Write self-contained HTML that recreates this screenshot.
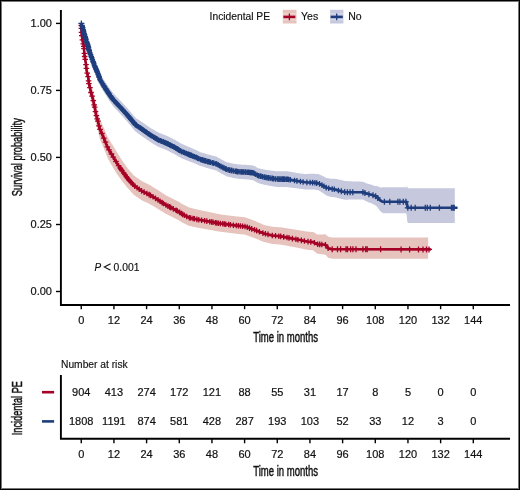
<!DOCTYPE html>
<html><head><meta charset="utf-8"><style>
html,body{margin:0;padding:0;background:#fff;overflow:hidden}
svg{display:block;will-change:transform}
text{font-family:"Liberation Sans",sans-serif;fill:#111}
.t{font-size:11px;stroke:#111;stroke-width:0.2}
.l{font-size:10.5px;stroke:#111;stroke-width:0.15}
.p{font-size:10px;stroke:#111;stroke-width:0.15}
.ti{font-size:14px;stroke:#111;stroke-width:0.45}
</style></head><body>
<svg width="520" height="490" viewBox="0 0 520 490"><rect x="0" y="0" width="520" height="490" fill="#fff"/><polygon points="81.2,23.4 81.8,34.1 82.2,36.7 82.8,38.9 83.2,40.1 83.8,41.2 84.2,46.5 84.8,51.5 85.2,54.0 85.8,56.7 86.2,61.0 86.8,65.1 87.2,66.9 87.8,68.8 88.2,70.6 88.8,75.4 89.2,77.7 89.8,79.6 90.2,81.6 90.8,83.7 91.2,85.7 91.8,87.1 92.2,88.5 92.8,90.0 93.2,92.2 93.8,94.3 94.2,96.5 94.8,98.9 95.2,101.5 95.8,104.0 96.2,106.2 96.8,107.9 97.2,109.6 97.8,111.3 98.2,113.1 98.8,115.0 99.2,116.9 99.8,118.8 100.2,119.8 100.8,121.0 101.2,122.1 101.8,123.2 102.2,124.3 102.8,125.4 103.2,126.6 103.8,127.7 104.2,128.9 104.8,130.1 105.2,131.3 105.8,132.5 106.2,133.7 106.8,134.9 107.2,136.1 107.8,137.3 108.2,138.1 108.8,138.9 109.2,139.7 109.8,140.5 110.2,141.3 110.8,142.1 111.2,142.9 111.8,143.7 112.2,144.5 112.8,145.3 113.2,146.1 113.8,146.9 114.2,147.7 114.8,148.5 115.2,149.4 115.8,150.2 116.2,151.1 116.8,152.0 117.2,152.8 117.8,153.6 118.2,154.3 118.8,155.1 119.2,155.9 119.8,156.7 120.2,157.5 120.8,158.3 121.2,159.0 121.8,159.8 122.2,160.5 122.8,161.2 123.2,161.9 123.8,162.7 124.2,163.4 124.8,164.1 125.2,164.8 125.8,165.5 126.2,166.3 126.8,167.0 127.2,167.7 127.8,168.4 128.2,169.0 128.8,169.6 129.2,170.2 129.8,170.8 130.2,171.4 130.8,172.0 131.2,172.5 131.8,173.1 132.2,173.7 132.8,174.2 133.2,174.8 133.8,175.4 134.2,175.7 134.8,176.1 135.2,176.4 135.8,176.8 136.2,177.2 136.8,177.5 137.2,177.9 137.8,178.2 138.2,178.6 138.8,178.9 139.2,179.3 139.8,179.6 140.2,180.0 140.8,180.3 141.2,180.7 141.8,181.0 142.2,181.2 142.8,181.5 143.2,181.7 143.8,182.0 144.2,182.2 144.8,182.5 145.2,182.7 145.8,183.0 146.2,183.2 146.8,183.5 147.2,183.7 147.8,184.0 148.2,184.2 148.8,184.5 149.2,184.7 149.8,185.0 150.2,185.3 150.8,185.6 151.2,185.9 151.8,186.2 152.2,186.5 152.8,186.9 153.2,187.2 153.8,187.5 154.2,187.8 154.8,188.1 155.2,188.4 155.8,188.7 156.2,189.0 156.8,189.3 157.2,189.6 157.8,189.9 158.2,190.2 158.8,190.6 159.2,190.9 159.8,191.2 160.2,191.6 160.8,191.9 161.2,192.2 161.8,192.5 162.2,192.9 162.8,193.2 163.2,193.5 163.8,193.9 164.2,194.2 164.8,194.5 165.2,194.8 165.8,195.2 166.2,195.4 166.8,195.7 167.2,195.9 167.8,196.2 168.2,196.4 168.8,196.7 169.2,196.9 169.8,197.2 170.2,197.4 170.8,197.7 171.2,197.9 171.8,198.2 172.2,198.4 172.8,198.7 173.2,198.9 173.8,199.2 174.2,199.4 174.8,199.7 175.2,199.9 175.8,200.2 176.2,200.4 176.8,200.7 177.2,200.9 177.8,201.2 178.2,201.4 178.8,201.8 179.2,202.1 179.8,202.4 180.2,202.7 180.8,203.0 181.2,203.3 181.8,203.7 182.2,204.0 182.8,204.3 183.2,204.6 183.8,204.8 184.2,205.1 184.8,205.3 185.2,205.6 185.8,205.8 186.2,206.1 186.8,206.3 187.2,206.6 187.8,206.8 188.2,207.1 188.8,207.3 189.2,207.5 189.8,207.6 190.2,207.7 190.8,207.8 191.2,208.0 191.8,208.1 192.2,208.2 192.8,208.4 193.2,208.5 193.8,208.6 194.2,208.7 194.8,208.9 195.2,209.0 195.8,209.1 196.2,209.3 196.8,209.4 197.2,209.5 197.8,209.6 198.2,209.7 198.8,209.8 199.2,209.9 199.8,210.0 200.2,210.1 200.8,210.2 201.2,210.4 201.8,210.5 202.2,210.6 202.8,210.7 203.2,210.8 203.8,210.9 204.2,211.0 204.8,211.1 205.2,211.2 205.8,211.3 206.2,211.4 206.8,211.5 207.2,211.6 207.8,211.7 208.2,211.8 208.8,211.9 209.2,212.0 209.8,212.2 210.2,212.3 210.8,212.4 211.2,212.5 211.8,212.6 212.2,212.7 212.8,212.8 213.2,212.9 213.8,213.0 214.2,213.1 214.8,213.3 215.2,213.4 215.8,213.5 216.2,213.6 216.8,213.7 217.2,213.8 217.8,213.9 218.2,214.0 218.8,214.1 219.2,214.2 219.8,214.3 220.2,214.3 220.8,214.4 221.2,214.5 221.8,214.6 222.2,214.7 222.8,214.7 223.2,214.8 223.8,214.9 224.2,215.0 224.8,215.1 225.2,215.1 225.8,215.2 226.2,215.2 226.8,215.3 227.2,215.3 227.8,215.4 228.2,215.4 228.8,215.5 229.2,215.6 229.8,215.6 230.2,215.7 230.8,215.7 231.2,215.8 231.8,215.9 232.2,215.9 232.8,216.0 233.2,216.1 233.8,216.1 234.2,216.2 234.8,216.2 235.2,216.3 235.8,216.4 236.2,216.4 236.8,216.5 237.2,216.5 237.8,216.5 238.2,216.6 238.8,216.6 239.2,216.7 239.8,216.7 240.2,216.8 240.8,216.8 241.2,216.9 241.8,216.9 242.2,217.0 242.8,217.0 243.2,217.1 243.8,217.1 244.2,217.2 244.8,217.2 245.2,217.3 245.8,217.5 246.2,217.7 246.8,217.9 247.2,218.0 247.8,218.2 248.2,218.4 248.8,218.5 249.2,218.7 249.8,218.9 250.2,219.1 250.8,219.3 251.2,219.5 251.8,219.7 252.2,219.9 252.8,220.1 253.2,220.3 253.8,220.5 254.2,220.7 254.8,220.9 255.2,221.1 255.8,221.3 256.2,221.5 256.8,221.7 257.2,222.0 257.8,222.2 258.2,222.4 258.8,222.6 259.2,222.9 259.8,223.1 260.2,223.3 260.8,223.5 261.2,223.7 261.8,224.0 262.2,224.2 262.8,224.4 263.2,224.6 263.8,224.8 264.2,225.0 264.8,225.1 265.2,225.3 265.8,225.4 266.2,225.5 266.8,225.6 267.2,225.7 267.8,225.8 268.2,225.9 268.8,226.0 269.2,226.1 269.8,226.2 270.2,226.3 270.8,226.4 271.2,226.5 271.8,226.6 272.2,226.7 272.8,226.8 273.2,226.8 273.8,226.8 274.2,226.9 274.8,226.9 275.2,227.0 275.8,227.0 276.2,227.0 276.8,227.1 277.2,227.1 277.8,227.1 278.2,227.2 278.8,227.2 279.2,227.2 279.8,227.3 280.2,227.3 280.8,227.3 281.2,227.4 281.8,227.5 282.2,227.5 282.8,227.6 283.2,227.7 283.8,227.8 284.2,227.9 284.8,227.9 285.2,228.0 285.8,228.1 286.2,228.2 286.8,228.2 287.2,228.3 287.8,228.4 288.2,228.5 288.8,228.5 289.2,228.6 289.8,228.7 290.2,228.8 290.8,228.9 291.2,228.9 291.8,229.0 292.2,229.1 292.8,229.2 293.2,229.3 293.8,229.4 294.2,229.4 294.8,229.5 295.2,229.6 295.8,229.7 296.2,229.8 296.8,229.9 297.2,229.9 297.8,230.0 298.2,230.1 298.8,230.2 299.2,230.3 299.8,230.4 300.2,230.4 300.8,230.5 301.2,230.6 301.8,230.7 302.2,230.8 302.8,230.9 303.2,231.0 303.8,231.1 304.2,231.2 304.8,231.2 305.2,231.3 305.8,231.4 306.2,231.5 306.8,231.6 307.2,231.6 307.8,231.7 308.2,231.7 308.8,231.7 309.2,231.7 309.8,231.8 310.2,231.8 310.8,231.8 311.2,231.9 311.8,231.9 312.2,231.9 312.8,231.9 313.2,232.0 313.8,232.2 314.2,232.6 314.8,232.9 315.2,233.3 315.8,233.6 316.2,234.0 316.8,234.3 317.2,234.4 317.8,234.4 318.2,234.4 318.8,234.4 319.2,234.4 319.8,234.4 320.2,234.4 320.8,234.4 321.2,234.4 321.8,234.4 322.2,234.4 322.8,234.4 323.2,234.4 323.8,234.3 324.2,234.3 324.8,234.3 325.2,234.3 325.8,234.5 326.2,235.0 326.8,235.4 327.2,235.8 327.8,236.3 328.2,236.7 328.8,236.7 329.2,236.8 329.8,237.0 330.2,237.1 330.8,237.2 331.2,237.3 331.8,237.4 332.2,237.5 332.8,237.5 333.2,237.5 333.8,237.5 334.2,237.5 334.8,237.5 335.2,237.5 335.8,237.5 336.2,237.5 336.8,237.5 337.2,237.5 337.8,237.5 338.2,237.5 338.8,237.5 339.2,237.5 339.8,237.5 340.2,237.5 340.8,237.5 341.2,237.5 341.8,237.5 342.2,237.5 342.8,237.5 343.2,237.5 343.8,237.5 344.2,237.5 344.8,237.5 345.2,237.5 345.8,237.5 346.2,237.5 346.8,237.5 347.2,237.5 347.8,237.5 348.2,237.5 348.8,237.5 349.2,237.5 349.8,237.5 350.2,237.5 350.8,237.5 351.2,237.5 351.8,237.5 352.2,237.5 352.8,237.5 353.2,237.5 353.8,237.5 354.2,237.5 354.8,237.5 355.2,237.5 355.8,237.5 356.2,237.5 356.8,237.5 357.2,237.5 357.8,237.5 358.2,237.5 358.8,237.5 359.2,237.5 359.8,237.5 360.2,237.5 360.8,237.5 361.2,237.5 361.8,237.5 362.2,237.5 362.8,237.5 363.2,237.5 363.8,237.5 364.2,237.5 364.8,237.5 365.2,237.5 365.8,237.5 366.2,237.5 366.8,237.5 367.2,237.5 367.8,237.5 368.2,237.5 368.8,237.5 369.2,237.5 369.8,237.5 370.2,237.5 370.8,237.5 371.2,237.5 371.8,237.5 372.2,237.5 372.8,237.5 373.2,237.5 373.8,237.5 374.2,237.5 374.8,237.5 375.2,237.5 375.8,237.5 376.2,237.5 376.8,237.5 377.2,237.5 377.8,237.5 378.2,237.5 378.8,237.5 379.2,237.5 379.8,237.5 380.2,237.5 380.8,237.5 381.2,237.5 381.8,237.6 382.2,237.6 382.8,237.6 383.2,237.6 383.8,237.6 384.2,237.6 384.8,237.6 385.2,237.6 385.8,237.6 386.2,237.6 386.8,237.6 387.2,237.6 387.8,237.6 388.2,237.6 388.8,237.6 389.2,237.6 389.8,237.6 390.2,237.6 390.8,237.6 391.2,237.6 391.8,237.6 392.2,237.6 392.8,237.6 393.2,237.6 393.8,237.6 394.2,237.6 394.8,237.6 395.2,237.6 395.8,237.6 396.2,237.6 396.8,237.6 397.2,237.6 397.8,237.6 398.2,237.6 398.8,237.6 399.2,237.6 399.8,237.6 400.2,237.6 400.8,237.6 401.2,237.6 401.8,237.6 402.2,237.6 402.8,237.6 403.2,237.6 403.8,237.6 404.2,237.6 404.8,237.6 405.2,237.6 405.8,237.6 406.2,237.6 406.8,237.6 407.2,237.6 407.8,237.6 408.2,237.6 408.8,237.6 409.2,237.6 409.8,237.6 410.2,237.6 410.8,237.6 411.2,237.6 411.8,237.6 412.2,237.6 412.8,237.6 413.2,237.6 413.8,237.6 414.2,237.6 414.8,237.6 415.2,237.6 415.8,237.6 416.2,237.6 416.8,237.6 417.2,237.6 417.8,237.6 418.2,237.6 418.8,237.6 419.2,237.6 419.8,237.6 420.2,237.6 420.8,237.6 421.2,237.6 421.8,237.6 422.2,237.6 422.8,237.6 423.2,237.6 423.8,237.6 424.2,237.6 424.8,237.6 425.2,237.6 425.8,237.6 426.2,237.6 426.8,237.6 427.2,237.6 427.8,237.6 428.2,237.6 428.2,258.8 427.8,258.8 427.2,258.8 426.8,258.8 426.2,258.8 425.8,258.8 425.2,258.8 424.8,258.8 424.2,258.8 423.8,258.8 423.2,258.8 422.8,258.8 422.2,258.8 421.8,258.8 421.2,258.8 420.8,258.8 420.2,258.8 419.8,258.8 419.2,258.8 418.8,258.8 418.2,258.8 417.8,258.8 417.2,258.8 416.8,258.8 416.2,258.8 415.8,258.8 415.2,258.8 414.8,258.8 414.2,258.8 413.8,258.8 413.2,258.8 412.8,258.8 412.2,258.8 411.8,258.8 411.2,258.8 410.8,258.8 410.2,258.8 409.8,258.8 409.2,258.8 408.8,258.8 408.2,258.8 407.8,258.8 407.2,258.8 406.8,258.8 406.2,258.8 405.8,258.8 405.2,258.8 404.8,258.8 404.2,258.8 403.8,258.8 403.2,258.8 402.8,258.8 402.2,258.8 401.8,258.8 401.2,258.8 400.8,258.8 400.2,258.8 399.8,258.8 399.2,258.8 398.8,258.8 398.2,258.8 397.8,258.8 397.2,258.8 396.8,258.8 396.2,258.8 395.8,258.8 395.2,258.8 394.8,258.8 394.2,258.8 393.8,258.8 393.2,258.8 392.8,258.8 392.2,258.8 391.8,258.8 391.2,258.8 390.8,258.8 390.2,258.8 389.8,258.8 389.2,258.8 388.8,258.8 388.2,258.8 387.8,258.8 387.2,258.8 386.8,258.8 386.2,258.8 385.8,258.8 385.2,258.8 384.8,258.8 384.2,258.8 383.8,258.8 383.2,258.8 382.8,258.8 382.2,258.8 381.8,258.8 381.2,258.7 380.8,258.7 380.2,258.7 379.8,258.7 379.2,258.7 378.8,258.7 378.2,258.7 377.8,258.7 377.2,258.7 376.8,258.7 376.2,258.7 375.8,258.7 375.2,258.7 374.8,258.7 374.2,258.7 373.8,258.7 373.2,258.7 372.8,258.7 372.2,258.7 371.8,258.7 371.2,258.7 370.8,258.7 370.2,258.7 369.8,258.7 369.2,258.7 368.8,258.7 368.2,258.7 367.8,258.7 367.2,258.7 366.8,258.7 366.2,258.7 365.8,258.7 365.2,258.7 364.8,258.7 364.2,258.7 363.8,258.7 363.2,258.7 362.8,258.7 362.2,258.7 361.8,258.7 361.2,258.7 360.8,258.7 360.2,258.7 359.8,258.7 359.2,258.7 358.8,258.7 358.2,258.7 357.8,258.7 357.2,258.7 356.8,258.7 356.2,258.7 355.8,258.7 355.2,258.7 354.8,258.7 354.2,258.7 353.8,258.7 353.2,258.7 352.8,258.7 352.2,258.7 351.8,258.7 351.2,258.7 350.8,258.7 350.2,258.7 349.8,258.7 349.2,258.7 348.8,258.7 348.2,258.7 347.8,258.7 347.2,258.7 346.8,258.7 346.2,258.7 345.8,258.7 345.2,258.7 344.8,258.7 344.2,258.7 343.8,258.7 343.2,258.7 342.8,258.7 342.2,258.7 341.8,258.7 341.2,258.7 340.8,258.7 340.2,258.7 339.8,258.7 339.2,258.7 338.8,258.7 338.2,258.7 337.8,258.7 337.2,258.7 336.8,258.7 336.2,258.7 335.8,258.7 335.2,258.7 334.8,258.7 334.2,258.7 333.8,258.7 333.2,258.7 332.8,258.7 332.2,258.7 331.8,258.6 331.2,258.5 330.8,258.4 330.2,258.3 329.8,258.2 329.2,258.0 328.8,257.9 328.2,257.8 327.8,257.2 327.2,256.7 326.8,256.2 326.2,255.6 325.8,255.0 325.2,254.7 324.8,254.7 324.2,254.6 323.8,254.5 323.2,254.5 322.8,254.4 322.2,254.3 321.8,254.3 321.2,254.2 320.8,254.1 320.2,254.1 319.8,254.0 319.2,253.9 318.8,253.8 318.2,253.8 317.8,253.7 317.2,253.6 316.8,253.5 316.2,253.0 315.8,252.6 315.2,252.1 314.8,251.7 314.2,251.2 313.8,250.8 313.2,250.4 312.8,250.3 312.2,250.3 311.8,250.2 311.2,250.2 310.8,250.1 310.2,250.1 309.8,250.0 309.2,250.0 308.8,249.9 308.2,249.9 307.8,249.8 307.2,249.8 306.8,249.7 306.2,249.6 305.8,249.5 305.2,249.4 304.8,249.3 304.2,249.2 303.8,249.0 303.2,248.9 302.8,248.8 302.2,248.7 301.8,248.6 301.2,248.5 300.8,248.4 300.2,248.3 299.8,248.2 299.2,248.1 298.8,248.0 298.2,247.9 297.8,247.8 297.2,247.7 296.8,247.6 296.2,247.5 295.8,247.4 295.2,247.3 294.8,247.2 294.2,247.1 293.8,247.0 293.2,246.9 292.8,246.8 292.2,246.7 291.8,246.6 291.2,246.5 290.8,246.5 290.2,246.4 289.8,246.3 289.2,246.2 288.8,246.1 288.2,246.0 287.8,245.9 287.2,245.8 286.8,245.7 286.2,245.6 285.8,245.6 285.2,245.5 284.8,245.4 284.2,245.3 283.8,245.2 283.2,245.1 282.8,245.0 282.2,244.9 281.8,244.9 281.2,244.8 280.8,244.7 280.2,244.6 279.8,244.6 279.2,244.6 278.8,244.5 278.2,244.5 277.8,244.4 277.2,244.4 276.8,244.3 276.2,244.3 275.8,244.2 275.2,244.2 274.8,244.1 274.2,244.1 273.8,244.1 273.2,244.0 272.8,244.0 272.2,243.9 271.8,243.8 271.2,243.7 270.8,243.6 270.2,243.4 269.8,243.3 269.2,243.2 268.8,243.1 268.2,243.0 267.8,242.9 267.2,242.7 266.8,242.6 266.2,242.5 265.8,242.4 265.2,242.3 264.8,242.2 264.2,242.0 263.8,241.9 263.2,241.7 262.8,241.5 262.2,241.3 261.8,241.1 261.2,240.9 260.8,240.7 260.2,240.5 259.8,240.3 259.2,240.0 258.8,239.8 258.2,239.6 257.8,239.4 257.2,239.2 256.8,239.0 256.2,238.8 255.8,238.6 255.2,238.4 254.8,238.2 254.2,238.0 253.8,237.8 253.2,237.7 252.8,237.5 252.2,237.3 251.8,237.1 251.2,236.9 250.8,236.7 250.2,236.5 249.8,236.4 249.2,236.2 248.8,236.0 248.2,235.8 247.8,235.7 247.2,235.5 246.8,235.3 246.2,235.1 245.8,235.0 245.2,234.8 244.8,234.7 244.2,234.6 243.8,234.6 243.2,234.5 242.8,234.5 242.2,234.4 241.8,234.3 241.2,234.3 240.8,234.2 240.2,234.2 239.8,234.1 239.2,234.1 238.8,234.0 238.2,234.0 237.8,233.9 237.2,233.8 236.8,233.8 236.2,233.7 235.8,233.7 235.2,233.6 234.8,233.6 234.2,233.5 233.8,233.4 233.2,233.4 232.8,233.3 232.2,233.2 231.8,233.2 231.2,233.1 230.8,233.0 230.2,232.9 229.8,232.9 229.2,232.8 228.8,232.7 228.2,232.7 227.8,232.6 227.2,232.6 226.8,232.5 226.2,232.4 225.8,232.4 225.2,232.3 224.8,232.3 224.2,232.2 223.8,232.1 223.2,232.1 222.8,232.0 222.2,232.0 221.8,231.9 221.2,231.8 220.8,231.8 220.2,231.7 219.8,231.7 219.2,231.6 218.8,231.5 218.2,231.5 217.8,231.4 217.2,231.3 216.8,231.2 216.2,231.1 215.8,231.0 215.2,230.9 214.8,230.8 214.2,230.7 213.8,230.6 213.2,230.5 212.8,230.4 212.2,230.3 211.8,230.2 211.2,230.2 210.8,230.1 210.2,230.0 209.8,229.9 209.2,229.8 208.8,229.7 208.2,229.6 207.8,229.5 207.2,229.4 206.8,229.3 206.2,229.2 205.8,229.2 205.2,229.1 204.8,229.0 204.2,228.9 203.8,228.8 203.2,228.7 202.8,228.6 202.2,228.5 201.8,228.5 201.2,228.4 200.8,228.3 200.2,228.2 199.8,228.1 199.2,228.0 198.8,227.9 198.2,227.8 197.8,227.7 197.2,227.7 196.8,227.6 196.2,227.5 195.8,227.3 195.2,227.2 194.8,227.1 194.2,227.0 193.8,226.9 193.2,226.8 192.8,226.7 192.2,226.6 191.8,226.4 191.2,226.3 190.8,226.2 190.2,226.1 189.8,226.0 189.2,225.9 188.8,225.8 188.2,225.5 187.8,225.3 187.2,225.0 186.8,224.8 186.2,224.5 185.8,224.3 185.2,224.0 184.8,223.8 184.2,223.6 183.8,223.3 183.2,223.1 182.8,222.8 182.2,222.5 181.8,222.2 181.2,221.8 180.8,221.5 180.2,221.2 179.8,220.9 179.2,220.6 178.8,220.3 178.2,220.0 177.8,219.7 177.2,219.5 176.8,219.2 176.2,219.0 175.8,218.7 175.2,218.5 174.8,218.2 174.2,218.0 173.8,217.8 173.2,217.5 172.8,217.3 172.2,217.0 171.8,216.8 171.2,216.5 170.8,216.3 170.2,216.0 169.8,215.8 169.2,215.6 168.8,215.3 168.2,215.1 167.8,214.8 167.2,214.6 166.8,214.3 166.2,214.1 165.8,213.8 165.2,213.5 164.8,213.2 164.2,212.9 163.8,212.6 163.2,212.3 162.8,212.0 162.2,211.6 161.8,211.3 161.2,211.0 160.8,210.7 160.2,210.4 159.8,210.0 159.2,209.7 158.8,209.4 158.2,209.1 157.8,208.8 157.2,208.5 156.8,208.2 156.2,207.9 155.8,207.6 155.2,207.3 154.8,207.0 154.2,206.7 153.8,206.4 153.2,206.1 152.8,205.8 152.2,205.5 151.8,205.3 151.2,205.0 150.8,204.7 150.2,204.4 149.8,204.1 149.2,203.8 148.8,203.6 148.2,203.3 147.8,203.1 147.2,202.8 146.8,202.6 146.2,202.4 145.8,202.1 145.2,201.9 144.8,201.7 144.2,201.4 143.8,201.2 143.2,200.9 142.8,200.7 142.2,200.5 141.8,200.2 141.2,199.9 140.8,199.6 140.2,199.2 139.8,198.9 139.2,198.6 138.8,198.2 138.2,197.9 137.8,197.5 137.2,197.2 136.8,196.9 136.2,196.5 135.8,196.2 135.2,195.8 134.8,195.5 134.2,195.1 133.8,194.8 133.2,194.2 132.8,193.7 132.2,193.1 131.8,192.6 131.2,192.0 130.8,191.4 130.2,190.9 129.8,190.3 129.2,189.8 128.8,189.3 128.2,188.8 127.8,188.3 127.2,187.7 126.8,187.0 126.2,186.4 125.8,185.8 125.2,185.1 124.8,184.5 124.2,183.8 123.8,183.2 123.2,182.6 122.8,181.9 122.2,181.3 121.8,180.7 121.2,180.0 120.8,179.3 120.2,178.6 119.8,177.9 119.2,177.2 118.8,176.5 118.2,175.8 117.8,175.1 117.2,174.4 116.8,173.7 116.2,172.9 115.8,172.1 115.2,171.3 114.8,170.5 114.2,169.6 113.8,168.7 113.2,167.9 112.8,167.0 112.2,166.1 111.8,165.3 111.2,164.4 110.8,163.5 110.2,162.7 109.8,161.8 109.2,160.9 108.8,160.0 108.2,159.2 107.8,158.3 107.2,157.1 106.8,155.8 106.2,154.5 105.8,153.2 105.2,152.0 104.8,150.7 104.2,149.5 103.8,148.2 103.2,147.0 102.8,145.8 102.2,144.6 101.8,143.4 101.2,142.2 100.8,141.1 100.2,139.9 99.8,138.7 99.2,136.6 98.8,134.4 98.2,132.2 97.8,130.2 97.2,128.2 96.8,126.2 96.2,124.3 95.8,121.9 95.2,119.1 94.8,116.3 94.2,113.6 93.8,111.2 93.2,108.8 92.8,106.4 92.2,104.7 91.8,103.0 91.2,101.3 90.8,99.1 90.2,96.7 89.8,94.4 89.2,92.1 88.8,89.4 88.2,84.2 87.8,81.9 87.2,79.6 86.8,77.4 86.2,72.9 85.8,68.2 85.2,65.1 84.8,62.1 84.2,56.7 83.8,50.3 83.2,47.3 82.8,44.4 82.2,40.4 81.8,36.0 81.2,23.4" fill="#e6c4bd"/><polygon points="81.2,23.4 81.8,24.6 82.2,25.8 82.8,27.0 83.2,29.1 83.8,31.0 84.2,32.2 84.8,33.5 85.2,35.0 85.8,36.5 86.2,38.0 86.8,39.1 87.2,40.2 87.8,41.3 88.2,42.7 88.8,44.7 89.2,46.6 89.8,47.7 90.2,48.9 90.8,50.2 91.2,51.6 91.8,52.8 92.2,54.1 92.8,55.4 93.2,56.7 93.8,58.1 94.2,59.5 94.8,60.7 95.2,61.9 95.8,63.0 96.2,64.2 96.8,65.3 97.2,66.5 97.8,67.6 98.2,68.8 98.8,70.1 99.2,71.7 99.8,73.2 100.2,74.5 100.8,75.2 101.2,76.0 101.8,76.7 102.2,77.4 102.8,78.2 103.2,78.9 103.8,79.7 104.2,80.5 104.8,81.2 105.2,82.0 105.8,82.8 106.2,83.5 106.8,84.3 107.2,85.0 107.8,85.6 108.2,86.3 108.8,87.0 109.2,87.7 109.8,88.4 110.2,89.1 110.8,89.8 111.2,90.5 111.8,91.2 112.2,91.9 112.8,92.5 113.2,93.2 113.8,93.8 114.2,94.3 114.8,94.8 115.2,95.3 115.8,95.8 116.2,96.4 116.8,96.9 117.2,97.4 117.8,97.9 118.2,98.4 118.8,98.9 119.2,99.4 119.8,99.9 120.2,100.5 120.8,101.0 121.2,101.6 121.8,102.1 122.2,102.6 122.8,103.2 123.2,103.7 123.8,104.3 124.2,104.8 124.8,105.3 125.2,105.9 125.8,106.4 126.2,107.0 126.8,107.5 127.2,108.1 127.8,108.6 128.2,109.2 128.8,109.8 129.2,110.4 129.8,111.0 130.2,111.5 130.8,112.1 131.2,112.7 131.8,113.3 132.2,113.9 132.8,114.5 133.2,115.1 133.8,115.7 134.2,116.2 134.8,116.8 135.2,117.4 135.8,117.8 136.2,118.2 136.8,118.5 137.2,118.9 137.8,119.2 138.2,119.5 138.8,119.9 139.2,120.2 139.8,120.6 140.2,120.9 140.8,121.2 141.2,121.6 141.8,121.9 142.2,122.3 142.8,122.6 143.2,122.9 143.8,123.3 144.2,123.6 144.8,124.0 145.2,124.3 145.8,124.7 146.2,125.0 146.8,125.3 147.2,125.7 147.8,126.0 148.2,126.4 148.8,126.7 149.2,127.1 149.8,127.4 150.2,127.7 150.8,128.1 151.2,128.4 151.8,128.7 152.2,129.0 152.8,129.2 153.2,129.5 153.8,129.8 154.2,130.1 154.8,130.4 155.2,130.7 155.8,131.0 156.2,131.3 156.8,131.6 157.2,131.9 157.8,132.1 158.2,132.4 158.8,132.7 159.2,132.9 159.8,133.1 160.2,133.3 160.8,133.4 161.2,133.6 161.8,133.8 162.2,134.0 162.8,134.2 163.2,134.4 163.8,134.6 164.2,134.8 164.8,135.0 165.2,135.2 165.8,135.4 166.2,135.6 166.8,135.8 167.2,136.0 167.8,136.3 168.2,136.5 168.8,136.8 169.2,137.0 169.8,137.3 170.2,137.5 170.8,137.7 171.2,138.0 171.8,138.2 172.2,138.5 172.8,138.7 173.2,138.9 173.8,139.2 174.2,139.5 174.8,139.8 175.2,140.0 175.8,140.3 176.2,140.6 176.8,140.9 177.2,141.2 177.8,141.5 178.2,141.8 178.8,142.1 179.2,142.4 179.8,142.7 180.2,143.0 180.8,143.3 181.2,143.6 181.8,143.9 182.2,144.1 182.8,144.3 183.2,144.5 183.8,144.7 184.2,144.9 184.8,145.2 185.2,145.4 185.8,145.6 186.2,145.8 186.8,146.0 187.2,146.2 187.8,146.4 188.2,146.7 188.8,146.9 189.2,147.1 189.8,147.3 190.2,147.5 190.8,147.7 191.2,148.0 191.8,148.2 192.2,148.4 192.8,148.6 193.2,148.8 193.8,149.0 194.2,149.3 194.8,149.5 195.2,149.7 195.8,149.9 196.2,150.1 196.8,150.3 197.2,150.6 197.8,150.9 198.2,151.1 198.8,151.4 199.2,151.7 199.8,152.0 200.2,152.2 200.8,152.3 201.2,152.5 201.8,152.6 202.2,152.8 202.8,152.9 203.2,153.0 203.8,153.2 204.2,153.3 204.8,153.5 205.2,153.6 205.8,153.8 206.2,153.9 206.8,154.1 207.2,154.2 207.8,154.4 208.2,154.5 208.8,154.6 209.2,154.8 209.8,154.9 210.2,155.0 210.8,155.1 211.2,155.3 211.8,155.4 212.2,155.5 212.8,155.7 213.2,155.8 213.8,155.9 214.2,156.0 214.8,156.2 215.2,156.3 215.8,156.4 216.2,156.6 216.8,156.8 217.2,157.1 217.8,157.4 218.2,157.7 218.8,158.0 219.2,158.2 219.8,158.5 220.2,158.8 220.8,159.1 221.2,159.4 221.8,159.6 222.2,159.9 222.8,160.1 223.2,160.4 223.8,160.6 224.2,160.9 224.8,161.2 225.2,161.4 225.8,161.7 226.2,161.9 226.8,162.2 227.2,162.3 227.8,162.4 228.2,162.5 228.8,162.6 229.2,162.7 229.8,162.9 230.2,163.0 230.8,163.1 231.2,163.2 231.8,163.3 232.2,163.4 232.8,163.5 233.2,163.6 233.8,163.7 234.2,163.8 234.8,163.9 235.2,164.0 235.8,164.0 236.2,164.1 236.8,164.2 237.2,164.2 237.8,164.3 238.2,164.4 238.8,164.4 239.2,164.5 239.8,164.6 240.2,164.6 240.8,164.6 241.2,164.7 241.8,164.7 242.2,164.7 242.8,164.7 243.2,164.7 243.8,164.7 244.2,164.7 244.8,164.8 245.2,164.8 245.8,164.8 246.2,164.8 246.8,164.8 247.2,164.9 247.8,164.9 248.2,165.0 248.8,165.1 249.2,165.1 249.8,165.2 250.2,165.2 250.8,165.3 251.2,165.3 251.8,165.4 252.2,165.4 252.8,165.5 253.2,165.5 253.8,165.7 254.2,166.0 254.8,166.3 255.2,166.5 255.8,166.8 256.2,167.1 256.8,167.4 257.2,167.7 257.8,168.0 258.2,168.2 258.8,168.3 259.2,168.4 259.8,168.5 260.2,168.6 260.8,168.8 261.2,168.9 261.8,169.0 262.2,169.1 262.8,169.2 263.2,169.3 263.8,169.4 264.2,169.5 264.8,169.6 265.2,169.7 265.8,169.8 266.2,169.9 266.8,170.0 267.2,170.0 267.8,170.1 268.2,170.2 268.8,170.2 269.2,170.3 269.8,170.4 270.2,170.5 270.8,170.5 271.2,170.6 271.8,170.7 272.2,170.7 272.8,170.8 273.2,170.9 273.8,171.0 274.2,171.0 274.8,171.1 275.2,171.2 275.8,171.2 276.2,171.2 276.8,171.2 277.2,171.2 277.8,171.2 278.2,171.2 278.8,171.2 279.2,171.2 279.8,171.2 280.2,171.2 280.8,171.2 281.2,171.2 281.8,171.2 282.2,171.2 282.8,171.2 283.2,171.2 283.8,171.2 284.2,171.2 284.8,171.2 285.2,171.2 285.8,171.2 286.2,171.2 286.8,171.2 287.2,171.2 287.8,171.3 288.2,171.4 288.8,171.5 289.2,171.6 289.8,171.7 290.2,171.8 290.8,171.9 291.2,171.9 291.8,172.0 292.2,172.1 292.8,172.2 293.2,172.3 293.8,172.4 294.2,172.5 294.8,172.6 295.2,172.6 295.8,172.7 296.2,172.8 296.8,172.9 297.2,173.0 297.8,173.1 298.2,173.2 298.8,173.2 299.2,173.3 299.8,173.4 300.2,173.5 300.8,173.5 301.2,173.6 301.8,173.6 302.2,173.7 302.8,173.7 303.2,173.8 303.8,173.8 304.2,173.9 304.8,173.9 305.2,174.0 305.8,173.9 306.2,173.9 306.8,173.9 307.2,173.9 307.8,173.9 308.2,173.9 308.8,173.8 309.2,173.8 309.8,173.8 310.2,173.8 310.8,173.8 311.2,173.8 311.8,173.7 312.2,173.7 312.8,173.7 313.2,173.7 313.8,173.7 314.2,173.7 314.8,173.8 315.2,173.8 315.8,173.9 316.2,173.9 316.8,174.0 317.2,174.0 317.8,174.1 318.2,174.1 318.8,174.3 319.2,174.5 319.8,174.7 320.2,174.9 320.8,175.1 321.2,175.4 321.8,175.6 322.2,175.8 322.8,176.0 323.2,176.3 323.8,176.6 324.2,176.8 324.8,177.1 325.2,177.4 325.8,177.6 326.2,177.9 326.8,178.0 327.2,178.1 327.8,178.2 328.2,178.3 328.8,178.3 329.2,178.4 329.8,178.5 330.2,178.6 330.8,178.7 331.2,178.7 331.8,178.7 332.2,178.7 332.8,178.7 333.2,178.8 333.8,178.8 334.2,178.8 334.8,178.8 335.2,178.8 335.8,178.9 336.2,179.0 336.8,179.1 337.2,179.2 337.8,179.3 338.2,179.4 338.8,179.5 339.2,179.6 339.8,179.7 340.2,179.8 340.8,179.9 341.2,180.0 341.8,180.2 342.2,180.3 342.8,180.5 343.2,180.6 343.8,180.7 344.2,180.9 344.8,181.0 345.2,181.1 345.8,181.1 346.2,181.1 346.8,181.1 347.2,181.2 347.8,181.2 348.2,181.2 348.8,181.2 349.2,181.2 349.8,181.3 350.2,181.3 350.8,181.3 351.2,181.3 351.8,181.3 352.2,181.3 352.8,181.4 353.2,181.4 353.8,181.4 354.2,181.4 354.8,181.4 355.2,181.5 355.8,181.5 356.2,181.5 356.8,181.5 357.2,181.5 357.8,181.5 358.2,181.6 358.8,181.6 359.2,181.6 359.8,181.6 360.2,181.6 360.8,181.7 361.2,181.7 361.8,181.7 362.2,181.7 362.8,181.7 363.2,181.9 363.8,182.1 364.2,182.3 364.8,182.5 365.2,182.8 365.8,183.0 366.2,183.2 366.8,183.4 367.2,183.6 367.8,183.7 368.2,183.9 368.8,184.0 369.2,184.1 369.8,184.3 370.2,184.4 370.8,184.6 371.2,184.7 371.8,184.8 372.2,185.0 372.8,185.2 373.2,185.4 373.8,185.6 374.2,185.8 374.8,185.9 375.2,186.0 375.8,185.9 376.2,185.8 376.8,186.0 377.2,186.2 377.8,186.4 378.2,186.6 378.8,186.8 379.2,187.0 379.8,187.2 380.2,187.4 380.8,187.4 381.2,187.4 381.8,187.4 382.2,187.3 382.8,187.3 383.2,187.3 383.8,187.3 384.2,187.3 384.8,187.3 385.2,187.3 385.8,187.3 386.2,187.3 386.8,187.3 387.2,187.3 387.8,187.3 388.2,187.3 388.8,187.3 389.2,187.3 389.8,187.3 390.2,187.3 390.8,187.3 391.2,187.3 391.8,187.3 392.2,187.3 392.8,187.3 393.2,187.3 393.8,187.3 394.2,187.3 394.8,187.3 395.2,187.3 395.8,187.3 396.2,187.3 396.8,187.3 397.2,187.3 397.8,187.3 398.2,187.3 398.8,187.3 399.2,187.3 399.8,187.3 400.2,187.3 400.8,187.3 401.2,187.3 401.8,187.3 402.2,187.3 402.8,187.3 403.2,187.3 403.8,187.3 404.2,187.3 404.8,187.3 405.2,187.3 405.8,187.3 406.2,187.3 406.8,186.8 407.2,186.3 407.8,188.2 408.2,188.2 408.8,188.2 409.2,188.2 409.8,188.2 410.2,188.2 410.8,188.2 411.2,188.2 411.8,188.2 412.2,188.2 412.8,188.2 413.2,188.2 413.8,188.2 414.2,188.2 414.8,188.2 415.2,188.2 415.8,188.2 416.2,188.2 416.8,188.2 417.2,188.2 417.8,188.2 418.2,188.2 418.8,188.2 419.2,188.2 419.8,188.2 420.2,188.2 420.8,188.2 421.2,188.2 421.8,188.2 422.2,188.2 422.8,188.2 423.2,188.2 423.8,188.2 424.2,188.2 424.8,188.2 425.2,188.2 425.8,188.2 426.2,188.2 426.8,188.2 427.2,188.2 427.8,188.2 428.2,188.2 428.8,188.2 429.2,188.2 429.8,188.2 430.2,188.2 430.8,188.2 431.2,188.2 431.8,188.2 432.2,188.2 432.8,188.2 433.2,188.2 433.8,188.2 434.2,188.2 434.8,188.2 435.2,188.2 435.8,188.2 436.2,188.2 436.8,188.2 437.2,188.2 437.8,188.2 438.2,188.2 438.8,188.2 439.2,188.2 439.8,188.2 440.2,188.2 440.8,188.2 441.2,188.2 441.8,188.2 442.2,188.2 442.8,188.2 443.2,188.2 443.8,188.2 444.2,188.2 444.8,188.2 445.2,188.2 445.8,188.2 446.2,188.2 446.8,188.2 447.2,188.2 447.8,188.2 448.2,188.2 448.8,188.2 449.2,188.2 449.8,188.2 450.2,188.2 450.8,188.2 451.2,188.2 451.8,188.2 452.2,188.2 452.8,188.2 453.2,188.2 453.8,188.2 454.2,188.2 454.8,188.2 454.8,223.0 454.2,223.0 453.8,223.0 453.2,223.0 452.8,223.0 452.2,223.0 451.8,223.0 451.2,223.0 450.8,223.0 450.2,223.0 449.8,223.0 449.2,223.0 448.8,223.0 448.2,223.0 447.8,223.0 447.2,223.0 446.8,223.0 446.2,223.0 445.8,223.0 445.2,223.0 444.8,223.0 444.2,223.0 443.8,223.0 443.2,223.0 442.8,223.0 442.2,223.0 441.8,223.0 441.2,223.0 440.8,223.0 440.2,223.0 439.8,223.0 439.2,223.0 438.8,223.0 438.2,223.0 437.8,223.0 437.2,223.0 436.8,223.0 436.2,223.0 435.8,223.0 435.2,223.0 434.8,223.0 434.2,223.0 433.8,223.0 433.2,223.0 432.8,223.0 432.2,223.0 431.8,223.0 431.2,223.0 430.8,223.0 430.2,223.0 429.8,223.0 429.2,223.0 428.8,223.0 428.2,223.0 427.8,223.0 427.2,223.0 426.8,223.0 426.2,223.0 425.8,223.0 425.2,223.0 424.8,223.0 424.2,223.0 423.8,223.0 423.2,223.0 422.8,223.0 422.2,223.0 421.8,223.0 421.2,223.0 420.8,223.0 420.2,223.0 419.8,223.0 419.2,223.0 418.8,223.0 418.2,223.0 417.8,223.0 417.2,223.0 416.8,223.0 416.2,223.0 415.8,223.0 415.2,223.0 414.8,223.0 414.2,223.0 413.8,223.0 413.2,223.0 412.8,223.0 412.2,223.0 411.8,223.0 411.2,223.0 410.8,223.0 410.2,223.0 409.8,223.0 409.2,223.0 408.8,223.0 408.2,223.0 407.8,223.0 407.2,221.1 406.8,216.1 406.2,213.3 405.8,213.3 405.2,213.3 404.8,213.3 404.2,213.3 403.8,213.3 403.2,213.3 402.8,213.3 402.2,213.3 401.8,213.3 401.2,213.3 400.8,213.3 400.2,213.3 399.8,213.3 399.2,213.3 398.8,213.3 398.2,213.3 397.8,213.3 397.2,213.3 396.8,213.3 396.2,213.3 395.8,213.3 395.2,213.3 394.8,213.3 394.2,213.3 393.8,213.3 393.2,213.3 392.8,213.3 392.2,213.3 391.8,213.3 391.2,213.3 390.8,213.3 390.2,213.3 389.8,213.3 389.2,213.3 388.8,213.3 388.2,213.3 387.8,213.3 387.2,213.3 386.8,213.3 386.2,213.3 385.8,213.3 385.2,213.3 384.8,213.3 384.2,213.3 383.8,213.3 383.2,213.3 382.8,213.1 382.2,212.7 381.8,212.3 381.2,211.9 380.8,211.5 380.2,211.0 379.8,210.4 379.2,209.7 378.8,209.1 378.2,208.4 377.8,207.8 377.2,207.1 376.8,206.5 376.2,205.9 375.8,205.5 375.2,205.2 374.8,204.9 374.2,204.7 373.8,204.4 373.2,204.2 372.8,203.9 372.2,203.7 371.8,203.5 371.2,203.3 370.8,203.1 370.2,202.9 369.8,202.8 369.2,202.6 368.8,202.4 368.2,202.2 367.8,202.0 367.2,201.8 366.8,201.6 366.2,201.3 365.8,201.1 365.2,200.8 364.8,200.5 364.2,200.3 363.8,200.0 363.2,199.7 362.8,199.5 362.2,199.4 361.8,199.4 361.2,199.4 360.8,199.4 360.2,199.4 359.8,199.4 359.2,199.4 358.8,199.5 358.2,199.5 357.8,199.5 357.2,199.5 356.8,199.5 356.2,199.5 355.8,199.5 355.2,199.5 354.8,199.5 354.2,199.5 353.8,199.5 353.2,199.6 352.8,199.6 352.2,199.6 351.8,199.6 351.2,199.6 350.8,199.6 350.2,199.6 349.8,199.6 349.2,199.6 348.8,199.6 348.2,199.6 347.8,199.7 347.2,199.7 346.8,199.7 346.2,199.7 345.8,199.7 345.2,199.7 344.8,199.7 344.2,199.5 343.8,199.4 343.2,199.3 342.8,199.2 342.2,199.1 341.8,199.0 341.2,198.9 340.8,198.8 340.2,198.7 339.8,198.5 339.2,198.4 338.8,198.3 338.2,198.1 337.8,198.0 337.2,197.9 336.8,197.7 336.2,197.6 335.8,197.5 335.2,197.4 334.8,197.3 334.2,197.3 333.8,197.2 333.2,197.2 332.8,197.1 332.2,197.1 331.8,197.0 331.2,197.0 330.8,196.9 330.2,196.8 329.8,196.7 329.2,196.5 328.8,196.3 328.2,196.1 327.8,195.9 327.2,195.8 326.8,195.6 326.2,195.4 325.8,195.0 325.2,194.7 324.8,194.3 324.2,194.0 323.8,193.6 323.2,193.3 322.8,192.9 322.2,192.6 321.8,192.3 321.2,192.0 320.8,191.6 320.2,191.3 319.8,191.0 319.2,190.7 318.8,190.4 318.2,190.2 317.8,190.1 317.2,190.0 316.8,189.9 316.2,189.9 315.8,189.8 315.2,189.7 314.8,189.7 314.2,189.6 313.8,189.5 313.2,189.5 312.8,189.5 312.2,189.5 311.8,189.5 311.2,189.5 310.8,189.5 310.2,189.5 309.8,189.5 309.2,189.5 308.8,189.5 308.2,189.5 307.8,189.5 307.2,189.5 306.8,189.5 306.2,189.5 305.8,189.5 305.2,189.5 304.8,189.4 304.2,189.4 303.8,189.3 303.2,189.2 302.8,189.1 302.2,189.1 301.8,189.0 301.2,188.9 300.8,188.9 300.2,188.8 299.8,188.7 299.2,188.7 298.8,188.6 298.2,188.5 297.8,188.5 297.2,188.4 296.8,188.3 296.2,188.3 295.8,188.2 295.2,188.2 294.8,188.1 294.2,188.0 293.8,188.0 293.2,187.9 292.8,187.8 292.2,187.8 291.8,187.7 291.2,187.7 290.8,187.6 290.2,187.5 289.8,187.5 289.2,187.4 288.8,187.3 288.2,187.3 287.8,187.2 287.2,187.1 286.8,187.1 286.2,187.1 285.8,187.1 285.2,187.2 284.8,187.2 284.2,187.1 283.8,187.1 283.2,187.1 282.8,187.1 282.2,187.1 281.8,187.0 281.2,187.0 280.8,187.0 280.2,187.0 279.8,187.0 279.2,187.0 278.8,186.9 278.2,186.9 277.8,186.9 277.2,186.9 276.8,186.9 276.2,186.8 275.8,186.8 275.2,186.8 274.8,186.7 274.2,186.6 273.8,186.5 273.2,186.4 272.8,186.3 272.2,186.2 271.8,186.1 271.2,186.0 270.8,186.0 270.2,185.9 269.8,185.8 269.2,185.7 268.8,185.6 268.2,185.5 267.8,185.4 267.2,185.3 266.8,185.2 266.2,185.1 265.8,185.0 265.2,184.9 264.8,184.8 264.2,184.7 263.8,184.6 263.2,184.4 262.8,184.3 262.2,184.2 261.8,184.0 261.2,183.9 260.8,183.8 260.2,183.7 259.8,183.5 259.2,183.4 258.8,183.3 258.2,183.1 257.8,182.9 257.2,182.6 256.8,182.3 256.2,182.0 255.8,181.7 255.2,181.4 254.8,181.0 254.2,180.7 253.8,180.4 253.2,180.2 252.8,180.2 252.2,180.1 251.8,180.0 251.2,180.0 250.8,179.9 250.2,179.8 249.8,179.8 249.2,179.7 248.8,179.6 248.2,179.6 247.8,179.5 247.2,179.4 246.8,179.4 246.2,179.3 245.8,179.3 245.2,179.3 244.8,179.3 244.2,179.2 243.8,179.2 243.2,179.2 242.8,179.2 242.2,179.1 241.8,179.1 241.2,179.1 240.8,179.1 240.2,179.1 239.8,179.0 239.2,178.9 238.8,178.8 238.2,178.8 237.8,178.7 237.2,178.6 236.8,178.5 236.2,178.5 235.8,178.4 235.2,178.3 234.8,178.2 234.2,178.1 233.8,178.0 233.2,177.9 232.8,177.8 232.2,177.7 231.8,177.6 231.2,177.4 230.8,177.3 230.2,177.2 229.8,177.1 229.2,177.0 228.8,176.9 228.2,176.7 227.8,176.6 227.2,176.5 226.8,176.4 226.2,176.1 225.8,175.8 225.2,175.6 224.8,175.3 224.2,175.0 223.8,174.8 223.2,174.5 222.8,174.3 222.2,174.0 221.8,173.7 221.2,173.5 220.8,173.2 220.2,172.9 219.8,172.6 219.2,172.3 218.8,172.0 218.2,171.7 217.8,171.4 217.2,171.1 216.8,170.8 216.2,170.5 215.8,170.4 215.2,170.3 214.8,170.1 214.2,170.0 213.8,169.9 213.2,169.7 212.8,169.6 212.2,169.4 211.8,169.3 211.2,169.2 210.8,169.0 210.2,168.9 209.8,168.8 209.2,168.6 208.8,168.5 208.2,168.3 207.8,168.2 207.2,168.0 206.8,167.9 206.2,167.7 205.8,167.6 205.2,167.4 204.8,167.3 204.2,167.1 203.8,167.0 203.2,166.8 202.8,166.6 202.2,166.5 201.8,166.3 201.2,166.2 200.8,166.0 200.2,165.9 199.8,165.7 199.2,165.4 198.8,165.2 198.2,164.9 197.8,164.7 197.2,164.4 196.8,164.2 196.2,164.0 195.8,163.8 195.2,163.6 194.8,163.4 194.2,163.2 193.8,163.0 193.2,162.8 192.8,162.6 192.2,162.4 191.8,162.3 191.2,162.1 190.8,161.9 190.2,161.7 189.8,161.5 189.2,161.3 188.8,161.1 188.2,160.9 187.8,160.7 187.2,160.5 186.8,160.3 186.2,160.1 185.8,159.9 185.2,159.7 184.8,159.5 184.2,159.3 183.8,159.1 183.2,159.0 182.8,158.8 182.2,158.6 181.8,158.4 181.2,158.1 180.8,157.8 180.2,157.5 179.8,157.3 179.2,157.0 178.8,156.7 178.2,156.4 177.8,156.1 177.2,155.8 176.8,155.5 176.2,155.2 175.8,154.9 175.2,154.6 174.8,154.3 174.2,154.0 173.8,153.7 173.2,153.5 172.8,153.2 172.2,153.0 171.8,152.7 171.2,152.5 170.8,152.2 170.2,152.0 169.8,151.7 169.2,151.5 168.8,151.2 168.2,151.0 167.8,150.7 167.2,150.5 166.8,150.2 166.2,150.0 165.8,149.8 165.2,149.6 164.8,149.4 164.2,149.2 163.8,149.0 163.2,148.8 162.8,148.6 162.2,148.4 161.8,148.2 161.2,148.0 160.8,147.8 160.2,147.6 159.8,147.4 159.2,147.2 158.8,147.0 158.2,146.8 157.8,146.5 157.2,146.2 156.8,145.9 156.2,145.6 155.8,145.3 155.2,145.0 154.8,144.7 154.2,144.4 153.8,144.1 153.2,143.8 152.8,143.5 152.2,143.2 151.8,142.9 151.2,142.6 150.8,142.3 150.2,142.0 149.8,141.6 149.2,141.3 148.8,140.9 148.2,140.6 147.8,140.2 147.2,139.9 146.8,139.5 146.2,139.2 145.8,138.8 145.2,138.5 144.8,138.1 144.2,137.8 143.8,137.4 143.2,137.1 142.8,136.7 142.2,136.4 141.8,136.0 141.2,135.7 140.8,135.3 140.2,135.0 139.8,134.6 139.2,134.3 138.8,133.9 138.2,133.6 137.8,133.2 137.2,132.9 136.8,132.5 136.2,132.1 135.8,131.8 135.2,131.3 134.8,130.7 134.2,130.1 133.8,129.5 133.2,128.9 132.8,128.3 132.2,127.7 131.8,127.1 131.2,126.5 130.8,125.9 130.2,125.3 129.8,124.7 129.2,124.1 128.8,123.5 128.2,122.9 127.8,122.3 127.2,121.7 126.8,121.1 126.2,120.6 125.8,120.0 125.2,119.4 124.8,118.9 124.2,118.3 123.8,117.8 123.2,117.2 122.8,116.6 122.2,116.1 121.8,115.5 121.2,115.0 120.8,114.4 120.2,113.8 119.8,113.3 119.2,112.8 118.8,112.2 118.2,111.7 117.8,111.2 117.2,110.6 116.8,110.1 116.2,109.6 115.8,109.1 115.2,108.5 114.8,108.0 114.2,107.5 113.8,106.9 113.2,106.3 112.8,105.6 112.2,105.0 111.8,104.3 111.2,103.6 110.8,102.9 110.2,102.1 109.8,101.4 109.2,100.6 108.8,99.8 108.2,99.1 107.8,98.3 107.2,97.5 106.8,96.8 106.2,96.0 105.8,95.1 105.2,94.3 104.8,93.4 104.2,92.6 103.8,91.8 103.2,90.9 102.8,90.1 102.2,89.3 101.8,88.5 101.2,87.6 100.8,86.8 100.2,86.0 99.8,84.6 99.2,83.0 98.8,81.4 98.2,80.0 97.8,78.8 97.2,77.6 96.8,76.3 96.2,75.1 95.8,73.9 95.2,72.7 94.8,71.4 94.2,70.1 93.8,68.7 93.2,67.2 92.8,65.8 92.2,64.5 91.8,63.1 91.2,61.8 90.8,60.4 90.2,58.9 89.8,57.4 89.2,55.7 88.8,53.2 88.2,50.7 87.8,48.7 87.2,47.1 86.8,45.4 86.2,43.7 85.8,41.6 85.2,39.6 84.8,37.5 84.2,35.7 83.8,33.9 83.2,31.4 82.8,28.7 82.2,26.9 81.8,25.2 81.2,23.4" fill="#c6c8dd"/><polyline points="81.2,23.4 81.6,34.0 82.6,41.0 83.8,46.0 84.2,51.0 84.6,56.0 85.7,62.0 86.7,71.0 88.4,78.0 88.8,83.0 90.0,88.0 91.1,93.0 92.7,98.0 94.4,105.7 96.0,114.3 98.1,122.0 99.7,128.6 102.5,135.0 104.6,140.0 107.7,147.7 112.3,155.4 116.9,163.1 121.5,170.0 127.7,178.5 133.8,185.4 141.5,190.8 149.2,194.6 156.9,199.2 165.8,205.0 172.0,208.2 178.0,211.3 183.1,214.6 188.9,217.6 196.9,219.4 207.7,221.3 218.5,223.3 229.2,224.6 235.0,225.4 245.0,226.5 255.0,230.0 263.7,233.4 272.3,235.5 281.0,236.4 290.0,238.1 300.0,240.1 306.7,241.5 313.5,242.1 316.8,244.2 325.6,244.8 328.3,248.4 332.0,249.3 430.8,249.4" fill="none" stroke="#a50026" stroke-width="2.6" stroke-linejoin="round"/><path d="M78.5 25.4h5.6M81.3 22.6v5.6M78.6 28.4h5.6M81.4 25.6v5.6M78.7 32.3h5.6M81.5 29.5v5.6M79.0 35.7h5.6M81.8 32.9v5.6M79.6 39.8h5.6M82.4 37.0v5.6M80.5 43.9h5.6M83.3 41.1v5.6M81.0 46.3h5.6M83.8 43.5v5.6M81.2 48.6h5.6M84.0 45.8v5.6M81.6 53.4h5.6M84.4 50.6v5.6M81.9 56.5h5.6M84.7 53.7v5.6M82.4 59.4h5.6M85.2 56.6v5.6M83.2 64.7h5.6M86.0 61.9v5.6M83.6 68.4h5.6M86.4 65.6v5.6M84.4 73.1h5.6M87.2 70.3v5.6M85.3 76.7h5.6M88.1 73.9v5.6M85.8 80.9h5.6M88.6 78.1v5.6M86.1 83.6h5.6M88.9 80.8v5.6M87.1 87.7h5.6M89.9 84.9v5.6M88.2 92.5h5.6M91.0 89.7v5.6M89.3 96.2h5.6M92.1 93.4v5.6M90.5 100.6h5.6M93.3 97.8v5.6M91.4 104.8h5.6M94.2 102.0v5.6M91.9 107.2h5.6M94.7 104.4v5.6M92.7 111.7h5.6M95.5 108.9v5.6M93.6 115.7h5.6M96.4 112.9v5.6M94.4 118.8h5.6M97.2 116.0v5.6M95.1 121.1h5.6M97.9 118.3v5.6M96.2 125.9h5.6M99.0 123.1v5.6M97.3 129.4h5.6M100.1 126.6v5.6M99.1 133.5h5.6M101.9 130.7v5.6M101.0 138.1h5.6M103.8 135.3v5.6M102.7 142.2h5.6M105.5 139.4v5.6M104.6 146.9h5.6M107.4 144.1v5.6M106.2 149.9h5.6M109.0 147.1v5.6M108.7 154.0h5.6M111.5 151.2v5.6M110.5 157.1h5.6M113.3 154.3v5.6M113.2 161.5h5.6M116.0 158.7v5.6M115.8 165.7h5.6M118.6 162.9v5.6M117.3 167.8h5.6M120.1 165.0v5.6M118.1 169.1h5.6M120.9 166.3v5.6M119.1 170.5h5.6M121.9 167.7v5.6M120.9 173.0h5.6M123.7 170.2v5.6M122.1 174.6h5.6M124.9 171.8v5.6M123.5 176.6h5.6M126.3 173.8v5.6M124.6 178.1h5.6M127.4 175.3v5.6M126.0 179.8h5.6M128.8 177.0v5.6M127.4 181.3h5.6M130.2 178.5v5.6M128.6 182.7h5.6M131.4 179.9v5.6M130.2 184.5h5.6M133.0 181.7v5.6M131.9 186.1h5.6M134.7 183.3v5.6M134.3 187.7h5.6M137.1 184.9v5.6M136.4 189.2h5.6M139.2 186.4v5.6M138.8 190.9h5.6M141.6 188.1v5.6M141.3 192.1h5.6M144.1 189.3v5.6M144.1 193.5h5.6M146.9 190.7v5.6M146.3 194.6h5.6M149.1 191.8v5.6M147.7 195.4h5.6M150.5 192.6v5.6M150.2 196.8h5.6M153.0 194.0v5.6M152.7 198.4h5.6M155.5 195.6v5.6M155.2 199.9h5.6M158.0 197.1v5.6M157.2 201.2h5.6M160.0 198.4v5.6M159.3 202.6h5.6M162.1 199.8v5.6M160.7 203.5h5.6M163.5 200.7v5.6M163.1 205.0h5.6M165.9 202.2v5.6M165.1 206.1h5.6M167.9 203.3v5.6M166.8 206.9h5.6M169.6 204.1v5.6M168.0 207.6h5.6M170.8 204.8v5.6M170.5 208.9h5.6M173.3 206.1v5.6M173.3 210.3h5.6M176.1 207.5v5.6M174.6 211.0h5.6M177.4 208.2v5.6M176.9 212.4h5.6M179.7 209.6v5.6M178.6 213.5h5.6M181.4 210.7v5.6M179.9 214.4h5.6M182.7 211.6v5.6M181.6 215.3h5.6M184.4 212.5v5.6M183.9 216.5h5.6M186.7 213.7v5.6M186.5 217.7h5.6M189.3 214.9v5.6M187.9 218.0h5.6M190.7 215.2v5.6M190.2 218.5h5.6M193.0 215.7v5.6M191.6 218.8h5.6M194.4 216.0v5.6M194.1 219.4h5.6M196.9 216.6v5.6M196.0 219.7h5.6M198.8 216.9v5.6M198.8 220.2h5.6M201.6 217.4v5.6M201.8 220.8h5.6M204.6 218.0v5.6M204.0 221.1h5.6M206.8 218.3v5.6M207.0 221.7h5.6M209.8 218.9v5.6M208.8 222.0h5.6M211.6 219.2v5.6M210.3 222.3h5.6M213.1 219.5v5.6M212.6 222.7h5.6M215.4 219.9v5.6M214.0 223.0h5.6M216.8 220.2v5.6M215.6 223.3h5.6M218.4 220.5v5.6M217.6 223.5h5.6M220.4 220.7v5.6M220.0 223.8h5.6M222.8 221.0v5.6M221.6 224.0h5.6M224.4 221.2v5.6M223.0 224.2h5.6M225.8 221.4v5.6M225.8 224.5h5.6M228.6 221.7v5.6M227.6 224.8h5.6M230.4 222.0v5.6M230.6 225.2h5.6M233.4 222.4v5.6M233.5 225.5h5.6M236.3 222.7v5.6M235.5 225.8h5.6M238.3 223.0v5.6M237.6 226.0h5.6M240.4 223.2v5.6M239.8 226.2h5.6M242.6 223.4v5.6M242.2 226.5h5.6M245.0 223.7v5.6M244.5 227.3h5.6M247.3 224.5v5.6M246.7 228.1h5.6M249.5 225.3v5.6M248.9 228.9h5.6M251.7 226.1v5.6M251.7 229.8h5.6M254.5 227.0v5.6M253.8 230.6h5.6M256.6 227.8v5.6M256.6 231.7h5.6M259.4 228.9v5.6M260.1 233.1h5.6M262.9 230.3v5.6M262.6 233.8h5.6M265.4 231.0v5.6M265.2 234.4h5.6M268.0 231.6v5.6M269.5 235.5h5.6M272.3 232.7v5.6M272.7 235.8h5.6M275.5 233.0v5.6M276.0 236.2h5.6M278.8 233.4v5.6M277.9 236.4h5.6M280.7 233.6v5.6M280.9 236.9h5.6M283.7 234.1v5.6M284.2 237.5h5.6M287.0 234.7v5.6M286.2 237.9h5.6M289.0 235.1v5.6M289.6 238.6h5.6M292.4 235.8v5.6M293.1 239.3h5.6M295.9 236.5v5.6M295.1 239.7h5.6M297.9 236.9v5.6M298.6 240.4h5.6M301.4 237.6v5.6M301.6 241.0h5.6M304.4 238.2v5.6M305.2 241.6h5.6M308.0 238.8v5.6M308.0 241.9h5.6M310.8 239.1v5.6M311.6 242.7h5.6M314.4 239.9v5.6M314.9 244.3h5.6M317.7 241.5v5.6M316.9 244.4h5.6M319.7 241.6v5.6M319.0 244.5h5.6M321.8 241.7v5.6M322.6 244.8h5.6M325.4 242.0v5.6M325.3 248.2h5.6M328.1 245.4v5.6M329.2 249.3h6.0M332.2 246.3v6.0M334.5 249.3h6.0M337.5 246.3v6.0M337.6 249.3h6.0M340.6 246.3v6.0M343.0 249.3h6.0M346.0 246.3v6.0M344.5 249.3h6.0M347.5 246.3v6.0M347.6 249.3h6.0M350.6 246.3v6.0M349.9 249.3h6.0M352.9 246.3v6.0M353.0 249.3h6.0M356.0 246.3v6.0M359.9 249.3h6.0M362.9 246.3v6.0M362.7 249.3h6.0M365.7 246.3v6.0M364.2 249.3h6.0M367.2 246.3v6.0M377.6 249.3h6.0M380.6 246.3v6.0M398.1 249.4h6.0M401.1 246.4v6.0M406.6 249.4h6.0M409.6 246.4v6.0M415.5 249.4h6.0M418.5 246.4v6.0M420.0 249.4h6.0M423.0 246.4v6.0M423.5 249.4h6.0M426.5 246.4v6.0M426.0 249.4h6.0M429.0 246.4v6.0" stroke="#a50026" stroke-width="1.3" fill="none"/><polyline points="81.2,23.4 82.8,28.0 83.6,32.0 84.6,35.0 86.3,41.0 88.1,46.0 89.2,51.0 91.0,56.0 92.9,61.0 94.5,65.5 96.4,70.0 98.5,75.0 100.1,80.0 103.3,85.0 106.4,90.0 110.5,96.0 113.4,100.0 120.0,106.9 127.7,115.4 135.4,124.6 143.1,130.0 150.8,135.4 158.5,140.0 166.2,143.1 173.8,146.9 181.5,151.5 189.2,154.6 196.9,157.7 200.0,159.3 208.2,161.7 216.3,163.8 221.2,166.6 226.9,169.5 234.3,171.1 240.0,171.9 246.5,172.1 253.5,172.9 258.0,175.6 265.0,177.3 275.4,179.0 287.0,179.2 295.0,180.6 305.0,182.3 313.8,182.6 318.5,183.4 322.3,185.3 326.2,187.6 330.8,188.8 335.4,189.5 340.0,191.0 345.0,192.2 362.9,192.2 366.9,193.8 372.3,195.1 376.3,196.5 380.4,200.5 383.1,201.8 406.5,201.8 407.6,207.8 457.5,207.8" fill="none" stroke="#1e3d7d" stroke-width="2.6" stroke-linejoin="round"/><polyline points="82.8,28.0 83.6,32.0 84.6,35.0 86.3,41.0 88.1,46.0 89.2,51.0 91.0,56.0 92.9,61.0 94.5,65.5 96.4,70.0 98.5,75.0 100.1,80.0 103.3,85.0 106.4,90.0 110.5,96.0 113.4,100.0 120.0,106.9 127.7,115.4 135.4,124.6 143.1,130.0 150.8,135.4 158.5,140.0 166.2,143.1 173.8,146.9 181.5,151.5 189.2,154.6 196.9,157.7" fill="none" stroke="#1e3d7d" stroke-width="4" stroke-linejoin="round" stroke-linecap="round"/><path d="M79.1 25.3h5.6M81.9 22.5v5.6M79.4 26.3h5.6M82.2 23.5v5.6M80.0 27.9h5.6M82.8 25.1v5.6M80.3 29.7h5.6M83.1 26.9v5.6M80.5 30.7h5.6M83.3 27.9v5.6M80.8 31.8h5.6M83.6 29.0v5.6M81.3 33.5h5.6M84.1 30.7v5.6M81.8 35.0h5.6M84.6 32.2v5.6M82.3 36.7h5.6M85.1 33.9v5.6M82.6 37.8h5.6M85.4 35.0v5.6M82.9 38.8h5.6M85.7 36.0v5.6M83.2 39.9h5.6M86.0 37.1v5.6M83.7 41.6h5.6M86.5 38.8v5.6M84.1 42.6h5.6M86.9 39.8v5.6M84.5 43.8h5.6M87.3 41.0v5.6M84.9 45.0h5.6M87.7 42.2v5.6M85.4 46.3h5.6M88.2 43.5v5.6M85.6 47.5h5.6M88.4 44.7v5.6M86.0 49.4h5.6M88.8 46.6v5.6M86.3 50.4h5.6M89.1 47.6v5.6M86.5 51.2h5.6M89.3 48.4v5.6M87.1 53.0h5.6M89.9 50.2v5.6M87.7 54.7h5.6M90.5 51.9v5.6M88.4 56.5h5.6M91.2 53.7v5.6M88.9 57.7h5.6M91.7 54.9v5.6M89.5 59.5h5.6M92.3 56.7v5.6M90.2 61.3h5.6M93.0 58.5v5.6M90.6 62.3h5.6M93.4 59.5v5.6M91.1 63.9h5.6M93.9 61.1v5.6M91.7 65.6h5.6M94.5 62.8v5.6M92.3 67.0h5.6M95.1 64.2v5.6M92.9 68.3h5.6M95.7 65.5v5.6M93.3 69.4h5.6M96.1 66.6v5.6M93.8 70.5h5.6M96.6 67.7v5.6M94.2 71.5h5.6M97.0 68.7v5.6M94.6 72.4h5.6M97.4 69.6v5.6M95.2 73.8h5.6M98.0 71.0v5.6M95.6 74.8h5.6M98.4 72.0v5.6M96.2 76.5h5.6M99.0 73.7v5.6M96.4 77.3h5.6M99.2 74.5v5.6M97.0 79.1h5.6M99.8 76.3v5.6M97.7 80.6h5.6M100.5 77.8v5.6M98.7 82.1h5.6M101.5 79.3v5.6M99.7 83.7h5.6M102.5 80.9v5.6M100.7 85.3h5.6M103.5 82.5v5.6M101.4 86.5h5.6M104.2 83.7v5.6M101.9 87.2h5.6M104.7 84.4v5.6M102.8 88.7h5.6M105.6 85.9v5.6M103.3 89.5h5.6M106.1 86.7v5.6M104.0 90.5h5.6M106.8 87.7v5.6M104.9 91.8h5.6M107.7 89.0v5.6M105.7 93.0h5.6M108.5 90.2v5.6M106.4 94.1h5.6M109.2 91.3v5.6M107.5 95.7h5.6M110.3 92.9v5.6M108.3 96.9h5.6M111.1 94.1v5.6M109.1 97.9h5.6M111.9 95.1v5.6M109.7 98.8h5.6M112.5 96.0v5.6M110.8 100.2h5.6M113.6 97.4v5.6M111.8 101.2h5.6M114.6 98.4v5.6M113.0 102.5h5.6M115.8 99.7v5.6M113.8 103.4h5.6M116.6 100.6v5.6M114.5 104.1h5.6M117.3 101.3v5.6M115.5 105.2h5.6M118.3 102.4v5.6M116.7 106.4h5.6M119.5 103.6v5.6M117.5 107.2h5.6M120.3 104.4v5.6M118.6 108.5h5.6M121.4 105.7v5.6M119.9 109.8h5.6M122.7 107.0v5.6M121.0 111.1h5.6M123.8 108.3v5.6M122.2 112.4h5.6M125.0 109.6v5.6M122.8 113.1h5.6M125.6 110.3v5.6M123.8 114.2h5.6M126.6 111.4v5.6M125.0 115.6h5.6M127.8 112.8v5.6M125.6 116.2h5.6M128.4 113.4v5.6M126.3 117.1h5.6M129.1 114.3v5.6M127.1 118.0h5.6M129.9 115.2v5.6M128.0 119.1h5.6M130.8 116.3v5.6M128.8 120.1h5.6M131.6 117.3v5.6M129.7 121.2h5.6M132.5 118.4v5.6M130.8 122.5h5.6M133.6 119.7v5.6M131.4 123.1h5.6M134.2 120.3v5.6M131.9 123.8h5.6M134.7 121.0v5.6M132.6 124.6h5.6M135.4 121.8v5.6M133.4 125.1h5.6M136.2 122.3v5.6M134.1 125.7h5.6M136.9 122.9v5.6M135.7 126.8h5.6M138.5 124.0v5.6M137.2 127.8h5.6M140.0 125.0v5.6M137.9 128.3h5.6M140.7 125.5v5.6M139.1 129.1h5.6M141.9 126.3v5.6M140.1 129.8h5.6M142.9 127.0v5.6M141.0 130.5h5.6M143.8 127.7v5.6M142.0 131.2h5.6M144.8 128.4v5.6M143.3 132.1h5.6M146.1 129.3v5.6M144.5 133.0h5.6M147.3 130.2v5.6M145.6 133.7h5.6M148.4 130.9v5.6M146.4 134.3h5.6M149.2 131.5v5.6M147.4 135.0h5.6M150.2 132.2v5.6M148.2 135.5h5.6M151.0 132.7v5.6M149.5 136.3h5.6M152.3 133.5v5.6M150.9 137.1h5.6M153.7 134.3v5.6M152.0 137.8h5.6M154.8 135.0v5.6M152.8 138.3h5.6M155.6 135.5v5.6M153.7 138.8h5.6M156.5 136.0v5.6M154.7 139.4h5.6M157.5 136.6v5.6M156.1 140.2h5.6M158.9 137.4v5.6M157.7 140.8h5.6M160.5 138.0v5.6M158.8 141.3h5.6M161.6 138.5v5.6M160.5 141.9h5.6M163.3 139.1v5.6M161.9 142.5h5.6M164.7 139.7v5.6M163.1 143.0h5.6M165.9 140.2v5.6M164.2 143.5h5.6M167.0 140.7v5.6M165.5 144.1h5.6M168.3 141.3v5.6M167.0 144.9h5.6M169.8 142.1v5.6M168.1 145.5h5.6M170.9 142.7v5.6M169.6 146.2h5.6M172.4 143.4v5.6M170.8 146.8h5.6M173.6 144.0v5.6M171.7 147.3h5.6M174.5 144.5v5.6M173.0 148.1h5.6M175.8 145.3v5.6M174.4 148.9h5.6M177.2 146.1v5.6M175.2 149.4h5.6M178.0 146.6v5.6M176.3 150.1h5.6M179.1 147.3v5.6M177.4 150.7h5.6M180.2 147.9v5.6M179.0 151.6h5.6M181.8 148.8v5.6M180.8 152.3h5.6M183.6 149.5v5.6M181.9 152.8h5.6M184.7 150.0v5.6M183.6 153.5h5.6M186.4 150.7v5.6M185.2 154.1h5.6M188.0 151.3v5.6M186.3 154.6h5.6M189.1 151.8v5.6M187.6 155.1h5.6M190.4 152.3v5.6M188.5 155.4h5.6M191.3 152.6v5.6M190.1 156.1h5.6M192.9 153.3v5.6M191.6 156.7h5.6M194.4 153.9v5.6M193.3 157.4h5.6M196.1 154.6v5.6M194.8 158.1h5.6M197.6 155.3v5.6M196.2 158.8h5.6M199.0 156.0v5.6M197.8 159.5h5.6M200.6 156.7v5.6M199.2 159.9h5.6M202.0 157.1v5.6M200.1 160.1h5.6M202.9 157.3v5.6M201.5 160.6h5.6M204.3 157.8v5.6M202.3 160.8h5.6M205.1 158.0v5.6M203.3 161.1h5.6M206.1 158.3v5.6M204.9 161.6h5.6M207.7 158.8v5.6M205.8 161.8h5.6M208.6 159.0v5.6M206.7 162.0h5.6M209.5 159.2v5.6M207.6 162.3h5.6M210.4 159.5v5.6M209.4 162.7h5.6M212.2 159.9v5.6M210.4 163.0h5.6M213.2 160.2v5.6M211.2 163.2h5.6M214.0 160.4v5.6M213.0 163.7h5.6M215.8 160.9v5.6M213.9 164.0h5.6M216.7 161.2v5.6M215.4 164.9h5.6M218.2 162.1v5.6M216.8 165.7h5.6M219.6 162.9v5.6M218.3 166.6h5.6M221.1 163.8v5.6M220.0 167.4h5.6M222.8 164.6v5.6M221.4 168.1h5.6M224.2 165.3v5.6M222.9 168.9h5.6M225.7 166.1v5.6M223.7 169.3h5.6M226.5 166.5v5.6M225.3 169.8h5.6M228.1 167.0v5.6M226.7 170.1h5.6M229.5 167.3v5.6M228.3 170.4h5.6M231.1 167.6v5.6M229.2 170.6h5.6M232.0 167.8v5.6M230.9 171.0h5.6M233.7 168.2v5.6M232.7 171.3h5.6M235.5 168.5v5.6M233.6 171.4h5.6M236.4 168.6v5.6M234.8 171.6h5.6M237.6 168.8v5.6M236.3 171.8h5.6M239.1 169.0v5.6M238.1 171.9h5.6M240.9 169.1v5.6M239.2 172.0h5.6M242.0 169.2v5.6M240.2 172.0h5.6M243.0 169.2v5.6M241.3 172.0h5.6M244.1 169.2v5.6M242.9 172.1h5.6M245.7 169.3v5.6M244.5 172.2h5.6M247.3 169.4v5.6M245.8 172.3h5.6M248.6 169.5v5.6M247.0 172.5h5.6M249.8 169.7v5.6M248.3 172.6h5.6M251.1 169.8v5.6M249.6 172.8h5.6M252.4 170.0v5.6M250.8 173.0h5.6M253.6 170.2v5.6M251.6 173.5h5.6M254.4 170.7v5.6M252.8 174.2h5.6M255.6 171.4v5.6M254.5 175.2h5.6M257.3 172.4v5.6M255.7 175.7h5.6M258.5 172.9v5.6M257.3 176.1h5.6M260.1 173.3v5.6M258.3 176.3h5.6M261.1 173.5v5.6M259.8 176.7h5.6M262.6 173.9v5.6M261.5 177.1h5.6M264.3 174.3v5.6M263.0 177.4h5.6M265.8 174.6v5.6M264.4 177.7h5.6M267.2 174.9v5.6M265.8 177.9h5.6M268.6 175.1v5.6M267.4 178.1h5.6M270.2 175.3v5.6M269.2 178.4h5.6M272.0 175.6v5.6M270.2 178.6h5.6M273.0 175.8v5.6M271.1 178.8h5.6M273.9 176.0v5.6M272.8 179.0h5.6M275.6 176.2v5.6M274.6 179.0h5.6M277.4 176.2v5.6M276.0 179.1h5.6M278.8 176.3v5.6M277.4 179.1h5.6M280.2 176.3v5.6M279.0 179.1h5.6M281.8 176.3v5.6M280.1 179.1h5.6M282.9 176.3v5.6M281.2 179.1h5.6M284.0 176.3v5.6M282.3 179.2h5.6M285.1 176.4v5.6M283.8 179.2h5.6M286.6 176.4v5.6M285.0 179.3h5.6M287.8 176.5v5.6M286.0 179.5h5.6M288.8 176.7v5.6M287.6 179.8h5.6M290.4 177.0v5.6M291.7 180.5h5.6M294.5 177.7v5.6M294.1 180.9h5.6M296.9 178.1v5.6M297.6 181.5h5.6M300.4 178.7v5.6M300.3 182.0h5.6M303.1 179.2v5.6M304.1 182.4h5.6M306.9 179.6v5.6M307.3 182.5h5.6M310.1 179.7v5.6M309.8 182.6h5.6M312.6 179.8v5.6M312.1 182.8h5.6M314.9 180.0v5.6M313.9 183.1h5.6M316.7 180.3v5.6M316.7 183.9h5.6M319.5 181.1v5.6M319.2 185.1h5.6M322.0 182.3v5.6M321.1 186.2h5.6M323.9 183.4v5.6M323.4 187.6h5.6M326.2 184.8v5.6M325.9 188.2h5.6M328.7 185.4v5.6M329.4 189.0h5.6M332.2 186.2v5.6M331.5 189.3h5.6M334.3 186.5v5.6M335.6 190.5h5.6M338.4 187.7v5.6M338.3 191.3h6.0M341.3 188.3v6.0M341.7 192.1h6.0M344.7 189.1v6.0M344.4 192.2h6.0M347.4 189.2v6.0M347.1 192.2h6.0M350.1 189.2v6.0M349.8 192.2h6.0M352.8 189.2v6.0M359.9 192.2h6.0M362.9 189.2v6.0M361.9 193.0h6.0M364.9 190.0v6.0M365.9 194.3h6.0M368.9 191.3v6.0M370.0 195.3h6.0M373.0 192.3v6.0M372.7 196.3h6.0M375.7 193.3v6.0M374.7 197.9h6.0M377.7 194.9v6.0M381.4 201.8h6.0M384.4 198.8v6.0M386.8 201.8h6.0M389.8 198.8v6.0M394.9 201.8h6.0M397.9 198.8v6.0M396.9 201.8h6.0M399.9 198.8v6.0M400.3 201.8h6.0M403.3 198.8v6.0M402.9 201.8h6.0M405.9 198.8v6.0M404.8 207.8h6.0M407.8 204.8v6.0M408.2 207.8h6.0M411.2 204.8v6.0M412.2 207.8h6.0M415.2 204.8v6.0M422.3 207.8h6.0M425.3 204.8v6.0M424.3 207.8h6.0M427.3 204.8v6.0M427.3 207.8h6.0M430.3 204.8v6.0M436.4 207.8h6.0M439.4 204.8v6.0M448.5 207.8h6.0M451.5 204.8v6.0M449.9 207.8h6.0M452.9 204.8v6.0M451.2 207.8h6.0M454.2 204.8v6.0M78.4 23.4h6M81.4 20.4v6" stroke="#1e3d7d" stroke-width="1.3" fill="none"/><path d="M60.9 10V305.9M60 305H510" stroke="#000" stroke-width="1.9" fill="none"/><path d="M56 23.4H60" stroke="#000" stroke-width="1.4"/><text x="52" y="27.2" text-anchor="end" class="t">1.00</text><path d="M56 90.4H60" stroke="#000" stroke-width="1.4"/><text x="52" y="94.2" text-anchor="end" class="t">0.75</text><path d="M56 157.4H60" stroke="#000" stroke-width="1.4"/><text x="52" y="161.2" text-anchor="end" class="t">0.50</text><path d="M56 224.5H60" stroke="#000" stroke-width="1.4"/><text x="52" y="228.3" text-anchor="end" class="t">0.25</text><path d="M56 291.5H60" stroke="#000" stroke-width="1.4"/><text x="52" y="295.3" text-anchor="end" class="t">0.00</text><path d="M81.25 305V309.2" stroke="#000" stroke-width="1.4"/><text x="81.25" y="323.5" text-anchor="middle" class="t">0</text><path d="M113.92 305V309.2" stroke="#000" stroke-width="1.4"/><text x="113.92" y="323.5" text-anchor="middle" class="t">12</text><path d="M146.59 305V309.2" stroke="#000" stroke-width="1.4"/><text x="146.59" y="323.5" text-anchor="middle" class="t">24</text><path d="M179.26 305V309.2" stroke="#000" stroke-width="1.4"/><text x="179.26" y="323.5" text-anchor="middle" class="t">36</text><path d="M211.93 305V309.2" stroke="#000" stroke-width="1.4"/><text x="211.93" y="323.5" text-anchor="middle" class="t">48</text><path d="M244.60 305V309.2" stroke="#000" stroke-width="1.4"/><text x="244.60" y="323.5" text-anchor="middle" class="t">60</text><path d="M277.27 305V309.2" stroke="#000" stroke-width="1.4"/><text x="277.27" y="323.5" text-anchor="middle" class="t">72</text><path d="M309.94 305V309.2" stroke="#000" stroke-width="1.4"/><text x="309.94" y="323.5" text-anchor="middle" class="t">84</text><path d="M342.61 305V309.2" stroke="#000" stroke-width="1.4"/><text x="342.61" y="323.5" text-anchor="middle" class="t">96</text><path d="M375.28 305V309.2" stroke="#000" stroke-width="1.4"/><text x="375.28" y="323.5" text-anchor="middle" class="t">108</text><path d="M407.95 305V309.2" stroke="#000" stroke-width="1.4"/><text x="407.95" y="323.5" text-anchor="middle" class="t">120</text><path d="M440.62 305V309.2" stroke="#000" stroke-width="1.4"/><text x="440.62" y="323.5" text-anchor="middle" class="t">132</text><path d="M473.29 305V309.2" stroke="#000" stroke-width="1.4"/><text x="473.29" y="323.5" text-anchor="middle" class="t">144</text><text x="0" y="0" class="ti" transform="translate(22.2,196.2) rotate(-90) scale(0.665,1)">Survival probability</text><text x="0" y="0" class="ti" transform="translate(253.2,342.2) scale(0.682,1)">Time in months</text><text x="94.6" y="270.7" class="p" font-style="italic">P</text><path d="M110.6 263.8L104.3 267.1L110.6 270.3" fill="none" stroke="#111" stroke-width="1.1"/><text x="113.6" y="270.7" class="p" style="font-size:10.3px">0.001</text><text x="209.6" y="20" class="l" style="font-size:10.25px">Incidental PE</text><rect x="282.8" y="9.8" width="13.7" height="13.7" fill="#e6c4bd"/><path d="M282.8 13.8H296.5M282.8 19.9H296.5" stroke="#fff" stroke-opacity="0.45" stroke-width="0.9"/><path d="M283.4 16.9H295.3" stroke="#a50026" stroke-width="2.5"/><path d="M289.4 13.5V20.3" stroke="#a50026" stroke-width="1.3"/><text x="301" y="19.8" class="l">Yes</text><rect x="330.1" y="9.8" width="13.3" height="13.7" fill="#c6c8dd"/><path d="M330.1 13.8H343.4M330.1 19.9H343.4" stroke="#fff" stroke-opacity="0.45" stroke-width="0.9"/><path d="M330.6 16.9H342.8" stroke="#1e3d7d" stroke-width="2.5"/><path d="M336.7 13.5V20.3" stroke="#1e3d7d" stroke-width="1.3"/><text x="348.2" y="19.8" class="l">No</text><text x="61" y="367.7" class="l" style="font-size:10.25px">Number at risk</text><path d="M60.9 375V439.7M60 438.8H510" stroke="#000" stroke-width="1.9" fill="none"/><text x="81.25" y="395.6" text-anchor="middle" class="t">904</text><text x="81.25" y="424.7" text-anchor="middle" class="t">1808</text><path d="M81.25 438.8V443.3" stroke="#000" stroke-width="1.4"/><text x="81.25" y="457.9" text-anchor="middle" class="t">0</text><text x="113.92" y="395.6" text-anchor="middle" class="t">413</text><text x="113.92" y="424.7" text-anchor="middle" class="t">1191</text><path d="M113.92 438.8V443.3" stroke="#000" stroke-width="1.4"/><text x="113.92" y="457.9" text-anchor="middle" class="t">12</text><text x="146.59" y="395.6" text-anchor="middle" class="t">274</text><text x="146.59" y="424.7" text-anchor="middle" class="t">874</text><path d="M146.59 438.8V443.3" stroke="#000" stroke-width="1.4"/><text x="146.59" y="457.9" text-anchor="middle" class="t">24</text><text x="179.26" y="395.6" text-anchor="middle" class="t">172</text><text x="179.26" y="424.7" text-anchor="middle" class="t">581</text><path d="M179.26 438.8V443.3" stroke="#000" stroke-width="1.4"/><text x="179.26" y="457.9" text-anchor="middle" class="t">36</text><text x="211.93" y="395.6" text-anchor="middle" class="t">121</text><text x="211.93" y="424.7" text-anchor="middle" class="t">428</text><path d="M211.93 438.8V443.3" stroke="#000" stroke-width="1.4"/><text x="211.93" y="457.9" text-anchor="middle" class="t">48</text><text x="244.60" y="395.6" text-anchor="middle" class="t">88</text><text x="244.60" y="424.7" text-anchor="middle" class="t">287</text><path d="M244.60 438.8V443.3" stroke="#000" stroke-width="1.4"/><text x="244.60" y="457.9" text-anchor="middle" class="t">60</text><text x="277.27" y="395.6" text-anchor="middle" class="t">55</text><text x="277.27" y="424.7" text-anchor="middle" class="t">193</text><path d="M277.27 438.8V443.3" stroke="#000" stroke-width="1.4"/><text x="277.27" y="457.9" text-anchor="middle" class="t">72</text><text x="309.94" y="395.6" text-anchor="middle" class="t">31</text><text x="309.94" y="424.7" text-anchor="middle" class="t">103</text><path d="M309.94 438.8V443.3" stroke="#000" stroke-width="1.4"/><text x="309.94" y="457.9" text-anchor="middle" class="t">84</text><text x="342.61" y="395.6" text-anchor="middle" class="t">17</text><text x="342.61" y="424.7" text-anchor="middle" class="t">52</text><path d="M342.61 438.8V443.3" stroke="#000" stroke-width="1.4"/><text x="342.61" y="457.9" text-anchor="middle" class="t">96</text><text x="375.28" y="395.6" text-anchor="middle" class="t">8</text><text x="375.28" y="424.7" text-anchor="middle" class="t">33</text><path d="M375.28 438.8V443.3" stroke="#000" stroke-width="1.4"/><text x="375.28" y="457.9" text-anchor="middle" class="t">108</text><text x="407.95" y="395.6" text-anchor="middle" class="t">5</text><text x="407.95" y="424.7" text-anchor="middle" class="t">12</text><path d="M407.95 438.8V443.3" stroke="#000" stroke-width="1.4"/><text x="407.95" y="457.9" text-anchor="middle" class="t">120</text><text x="440.62" y="395.6" text-anchor="middle" class="t">0</text><text x="440.62" y="424.7" text-anchor="middle" class="t">3</text><path d="M440.62 438.8V443.3" stroke="#000" stroke-width="1.4"/><text x="440.62" y="457.9" text-anchor="middle" class="t">132</text><text x="473.29" y="395.6" text-anchor="middle" class="t">0</text><text x="473.29" y="424.7" text-anchor="middle" class="t">0</text><path d="M473.29 438.8V443.3" stroke="#000" stroke-width="1.4"/><text x="473.29" y="457.9" text-anchor="middle" class="t">144</text><path d="M42 392.2H54.1" stroke="#a50026" stroke-width="2.6"/><path d="M42 421.4H54.1" stroke="#1e3d7d" stroke-width="2.6"/><text x="0" y="0" class="ti" transform="translate(22.2,435.2) rotate(-90) scale(0.656,1)">Incidental PE</text><text x="0" y="0" class="ti" transform="translate(253.2,476.4) scale(0.682,1)">Time in months</text><rect x="0.5" y="0.5" width="519" height="489" fill="none" stroke="#000" stroke-width="1"/><rect x="1.5" y="1.5" width="517" height="487" fill="none" stroke="#777" stroke-width="1"/></svg>
</body></html>
